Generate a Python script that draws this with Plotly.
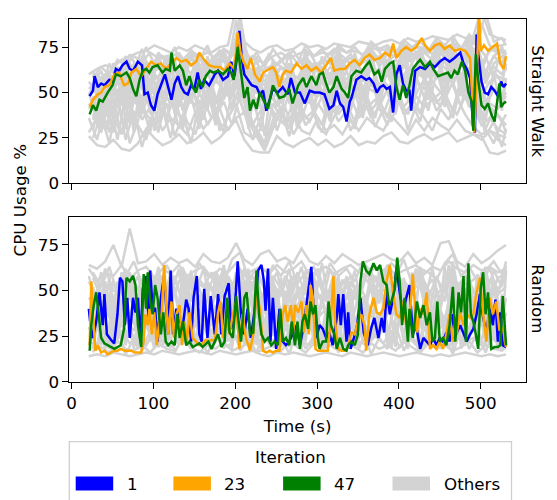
import plotly.graph_objects as go

# ---------------- data ----------------
# highlighted iterations: (time s, CPU %)
top_it1 = [(22,48),(26,51),(28,59),(32,53),(36,55),(40,54),(46,57),(50,56),(54,63),(58,62),(62,65),(67,67),(71,63),(75,62),(81,67),(86,65),(89,49),(93,50),(97,43),(101,40),(105,49),(109,54),(114,60),(118,53),(122,46),(126,55),(130,59),(134,53),(138,50),(142,49),(146,54),(150,52),(154,61),(158,52),(162,57),(168,54),(175,60),(179,62),(185,57),(191,59),(195,67),(199,59),(203,73),(205,84),(208,69),(211,60),(215,57),(220,54),(226,53),(230,49),(234,51),(238,40),(242,46),(246,52),(252,50),(258,53),(264,49),(268,58),(273,50),(279,50),(285,44),(291,51),(297,50),(303,50),(309,49),(315,41),(320,43),(324,51),(328,44),(332,42),(336,34),(340,45),(342,47),(348,57),(354,59),(360,57),(364,58),(369,55),(373,50),(377,53),(381,54),(385,52),(389,53),(393,39),(397,60),(401,65),(405,55),(409,51),(413,51),(415,40),(420,62),(426,64),(432,63),(438,66),(444,64),(450,67),(456,69),(462,67),(468,69),(475,72),(479,66),(483,63),(487,58),(491,30),(493,28),(495,82),(497,71),(501,56),(505,50),(509,49),(513,53),(517,51),(521,48),(525,56),(528,53),(531,55)]
top_it23 = [(22,42),(26,46),(32,49),(36,50),(40,53),(46,54),(52,60),(58,61),(64,54),(69,55),(73,61),(79,63),(85,59),(91,63),(97,67),(103,65),(109,66),(115,63),(122,66),(128,69),(134,67),(140,68),(146,65),(152,67),(156,72),(162,68),(168,65),(175,64),(181,64),(187,62),(193,66),(199,63),(203,83),(206,73),(210,67),(215,63),(219,69),(224,60),(230,56),(234,61),(238,62),(242,63),(246,64),(250,61),(254,53),(258,60),(262,62),(268,61),(275,66),(281,63),(287,65),(293,62),(299,64),(305,61),(311,65),(317,69),(321,62),(328,63),(334,63),(340,66),(346,68),(352,65),(358,69),(364,71),(370,68),(377,69),(383,72),(389,70),(393,77),(397,69),(403,73),(409,75),(415,73),(421,75),(428,80),(432,76),(438,73),(444,76),(450,77),(456,74),(462,76),(468,73),(475,74),(481,73),(487,69),(490,47),(492,28),(495,56),(498,95),(500,73),(504,76),(509,73),(515,75),(520,77),(524,66),(528,63),(531,70)]
top_it47 = [(22,38),(26,43),(30,40),(34,46),(38,45),(44,50),(50,54),(54,60),(60,59),(67,61),(71,58),(75,52),(79,48),(83,57),(87,62),(91,63),(95,61),(99,64),(105,65),(111,61),(115,63),(120,62),(122,72),(126,62),(132,65),(136,62),(140,54),(144,59),(148,53),(152,50),(156,57),(160,53),(164,59),(169,62),(173,61),(179,62),(185,60),(191,63),(195,61),(198,57),(203,75),(207,61),(211,47),(215,53),(218,40),(222,46),(226,41),(230,50),(234,46),(240,41),(246,54),(250,50),(254,47),(260,48),(266,52),(270,44),(277,54),(283,58),(287,53),(293,59),(299,54),(303,60),(307,61),(311,55),(315,50),(320,53),(324,59),(330,52),(334,50),(338,47),(342,59),(348,62),(354,61),(360,65),(364,67),(370,60),(375,62),(379,56),(383,63),(389,66),(393,67),(397,53),(401,46),(405,54),(409,47),(413,54),(417,63),(422,66),(426,68),(432,64),(438,67),(442,63),(448,59),(454,60),(460,61),(464,58),(468,62),(472,60),(477,67),(481,62),(485,50),(489,45),(491,29),(494,71),(497,57),(501,43),(505,41),(509,44),(513,38),(517,34),(519,42),(523,55),(525,42),(528,44),(531,45)]

bot_it1 = [(21,40),(23,31),(26,24),(30,33),(34,49),(38,31),(40,48),(43,26),(48,23),(52,21),(56,37),(59,57),(62,55),(65,31),(68,46),(71,24),(75,46),(78,38),(81,46),(84,22),(87,51),(91,58),(94,35),(96,61),(99,40),(102,40),(105,22),(109,46),(113,58),(118,26),(121,61),(124,26),(128,40),(132,33),(136,31),(140,45),(143,40),(146,22),(149,46),(153,58),(156,26),(159,22),(162,51),(166,24),(170,47),(175,26),(179,48),(183,26),(187,47),(192,54),(195,29),(199,37),(203,66),(207,37),(211,26),(215,40),(219,24),(224,40),(228,61),(232,64),(235,55),(237,39),(240,62),(243,22),(246,46),(250,18),(254,40),(258,22),(262,20),(266,22),(270,26),(275,31),(279,20),(283,29),(287,42),(291,55),(293,63),(296,37),(299,24),(303,31),(307,29),(311,24),(315,27),(319,20),(324,35),(326,48),(329,31),(332,48),(336,22),(338,38),(341,18),(345,24),(349,31),(353,46),(357,27),(362,20),(366,29),(370,35),(375,24),(379,35),(382,27),(385,50),(389,37),(393,46),(397,62),(401,49),(405,38),(409,46),(413,53),(417,26),(421,31),(426,18),(430,24),(434,22),(438,20),(442,24),(446,20),(450,24),(454,22),(458,27),(462,22),(466,37),(470,26),(475,31),(479,27),(483,22),(487,26),(491,29),(495,37),(499,48),(503,35),(507,27),(511,40),(515,31),(518,45),(521,22),(524,38),(527,20),(531,19)]
bot_it23 = [(22,20),(24,55),(26,38),(29,17),(32,20),(36,16),(40,17),(44,15),(48,16),(52,17),(56,17),(60,18),(65,17),(69,17),(73,17),(77,16),(81,16),(85,16),(88,22),(90,37),(93,31),(95,40),(98,26),(101,38),(104,20),(107,33),(110,37),(113,64),(116,40),(118,26),(122,44),(125,24),(128,37),(132,42),(135,20),(138,33),(141,22),(144,38),(148,24),(152,22),(156,20),(160,21),(164,23),(168,22),(171,23),(175,22),(179,38),(182,44),(185,24),(189,33),(193,26),(197,37),(201,44),(205,18),(209,37),(213,24),(218,17),(222,26),(226,49),(230,40),(234,17),(238,16),(242,17),(246,16),(250,17),(254,17),(258,37),(261,42),(264,33),(268,42),(271,27),(273,42),(277,38),(281,44),(284,27),(287,42),(290,26),(292,53),(295,46),(298,18),(301,17),(305,17),(309,17),(313,17),(317,35),(320,58),(322,33),(326,18),(330,17),(334,17),(338,19),(342,27),(346,26),(350,33),(354,37),(358,31),(360,17),(364,37),(369,46),(373,38),(377,37),(381,40),(385,55),(389,64),(393,48),(397,37),(401,35),(405,44),(409,31),(413,33),(417,59),(422,27),(426,40),(430,37),(434,49),(438,18),(442,20),(446,18),(450,22),(454,18),(458,26),(462,37),(466,22),(471,27),(475,38),(479,31),(483,37),(487,35),(491,37),(495,49),(499,57),(503,37),(507,22),(511,46),(515,37),(519,44),(523,28),(527,30),(531,19)]
bot_it47 = [(22,17),(24,31),(27,42),(30,49),(33,37),(36,24),(40,21),(44,20),(48,19),(52,18),(56,19),(60,20),(64,29),(67,57),(71,55),(75,58),(78,53),(81,31),(85,19),(88,59),(91,40),(93,60),(96,44),(99,37),(102,53),(105,46),(109,26),(112,38),(115,22),(118,20),(122,22),(126,20),(129,37),(132,24),(136,33),(140,20),(144,22),(148,19),(152,20),(156,21),(160,19),(164,21),(167,22),(171,18),(175,22),(179,26),(183,19),(187,22),(190,46),(193,27),(197,24),(201,47),(203,37),(207,22),(209,33),(211,46),(214,49),(218,26),(222,27),(226,61),(229,37),(232,26),(236,22),(240,24),(244,20),(248,22),(252,20),(255,40),(258,22),(262,24),(266,20),(269,33),(273,20),(276,33),(279,18),(282,33),(285,37),(289,29),(292,44),(295,37),(298,42),(301,24),(303,18),(307,22),(311,22),(314,44),(317,31),(321,26),(324,18),(328,24),(332,18),(336,17),(338,20),(342,22),(346,20),(350,26),(353,55),(356,66),(360,61),(364,59),(369,65),(373,61),(377,64),(381,55),(385,53),(388,42),(391,44),(395,51),(398,68),(401,55),(404,31),(407,46),(411,22),(413,40),(417,24),(422,44),(426,35),(430,42),(434,31),(438,38),(441,22),(444,24),(447,44),(450,22),(454,24),(458,20),(462,31),(466,52),(469,22),(473,49),(476,38),(479,58),(482,22),(485,65),(488,37),(491,33),(494,26),(497,18),(500,51),(503,60),(506,37),(509,49),(513,18),(517,19),(521,19),(524,20),(527,47),(529,30),(531,20)]

# the other iterations (grey), sampled every 10 s on two interleaved time grids
others_t = [21,31,41,51,61,71,81,91,101,111,121,131,141,151,161,171,181,191,201,211,
            221,231,241,251,261,271,281,291,301,311,321,331,341,351,361,371,381,391,401,411,
            421,431,441,451,461,471,481,491,501,511,521,531]
others_tb = [26,36,46,56,66,76,86,96,106,116,126,136,146,156,166,176,186,196,206,216,
             226,236,246,256,266,276,286,296,306,316,326,336,346,356,366,376,386,396,406,416,
             426,436,446,456,466,476,486,496,506,516,526,531]
top_others = [
    [60,63,65,64,68,70,72,73,76,74,72,75,73,76,74,72,75,76,97,78,74,72,75,76,73,74,77,75,76,74,77,76,75,78,77,76,78,79,77,80,78,79,81,80,79,82,80,81,96,82,80,79],
    [26,21,20,24,19,18,22,30,25,21,23,27,22,24,28,22,25,30,35,24,18,17,17,26,22,20,23,25,21,24,20,22,26,21,23,22,26,28,23,22,25,27,24,26,28,23,25,27,26,17,16,18],
    [44,38,30,42,28,46,52,38,33,47,50,30,44,52,46,36,44,50,58,45,32,40,44,36,33,45,40,34,44,37,40,45,48,36,42,46,38,50,45,38,48,42,46,50,44,38,48,42,32,36,30,27],
    [52,56,60,57,62,64,60,67,62,64,66,61,68,63,66,64,69,65,80,64,60,62,64,66,62,65,67,63,66,68,64,67,69,65,68,70,66,69,72,67,70,72,68,71,73,70,74,72,62,74,72,73],
    [36,24,42,28,47,22,34,57,29,42,25,47,34,27,42,52,29,36,44,28,25,36,47,29,42,27,35,50,31,27,37,44,29,39,47,31,41,34,50,29,43,36,29,41,35,47,38,31,27,29,24,21],
    [56,50,47,53,56,50,59,52,57,61,55,59,54,57,62,57,55,59,68,55,51,49,56,59,56,52,55,59,55,58,61,56,59,55,61,63,58,61,56,63,61,58,63,66,61,63,58,61,48,56,59,57],
    [41,48,44,37,51,47,43,53,45,51,44,53,48,43,56,50,45,53,62,47,43,46,51,44,48,53,45,51,48,53,44,50,55,47,53,50,56,52,49,55,57,52,56,50,56,59,54,52,38,44,41,48],
    [28,36,30,36,27,39,32,24,41,29,36,32,27,39,30,36,41,29,36,39,24,30,27,36,32,39,29,27,36,29,32,27,35,29,36,32,29,37,32,27,35,29,36,32,29,35,29,27,24,29,27,25],
    [48,60,55,66,58,71,63,75,66,70,62,72,65,71,60,68,73,64,90,66,70,63,71,65,69,73,66,72,64,70,74,67,71,65,73,76,69,74,70,77,72,75,71,78,74,77,73,78,88,76,73,71],
    [50,34,48,40,55,33,60,45,52,38,58,42,60,48,35,55,40,62,55,38,48,30,52,42,58,36,50,44,60,38,54,46,40,58,48,36,56,44,62,46,40,58,50,42,60,48,55,45,35,42,38,32],
]
top_others_b = [
    [55,40,62,45,66,50,70,48,72,52,68,46,74,50,70,55,72,48,85,52,70,45,68,55,72,50,74,48,70,54,76,52,72,56,74,50,76,54,78,52,75,58,78,55,80,56,77,60,70,58,76,62],
    [35,52,38,58,42,63,40,66,45,62,38,68,44,65,40,70,46,66,60,42,64,40,66,44,62,48,68,42,64,46,70,44,66,48,72,46,68,50,74,48,70,52,75,50,72,54,76,50,40,62,55,66],
    [48,30,55,35,60,28,64,38,58,32,66,40,60,36,68,34,62,40,75,30,58,26,60,38,64,34,66,40,62,36,68,42,64,38,70,40,66,44,72,40,68,46,74,42,70,48,75,44,35,60,40,58],
    [60,45,58,50,64,55,68,52,70,58,66,54,72,60,68,56,74,58,88,60,56,50,62,58,66,54,70,60,68,56,72,62,70,58,74,64,72,60,76,66,74,62,78,68,76,64,80,66,62,70,66,72],
    [25,38,22,45,30,50,35,42,28,55,40,35,48,30,52,38,45,32,50,40,28,20,35,42,30,48,36,40,32,50,38,44,34,52,40,46,36,54,42,48,38,56,44,50,40,58,46,42,30,22,34,28],
    [42,55,48,60,52,58,62,56,66,60,64,58,70,62,66,60,72,64,78,62,58,54,60,64,62,58,66,62,64,60,68,64,66,62,70,66,68,64,72,68,70,66,74,70,72,68,76,72,55,66,70,68],
    [62,50,66,56,70,62,74,60,72,66,75,62,73,68,76,64,74,70,92,66,72,64,74,68,72,66,76,70,74,68,76,72,75,70,78,74,76,72,79,75,78,73,80,76,81,74,82,77,94,78,80,76],
    [30,45,35,50,40,56,38,52,46,60,42,55,48,62,44,58,50,64,70,48,40,52,46,58,44,56,50,60,46,58,52,62,48,60,54,64,50,62,56,66,52,64,58,68,54,66,60,70,45,52,48,56],
    [50,58,44,62,50,66,56,60,52,68,58,62,54,70,60,64,56,72,66,58,50,60,56,64,58,54,62,66,58,64,60,68,62,58,66,70,62,68,64,72,66,62,70,74,66,72,68,76,58,64,60,66],
    [38,28,46,24,50,34,44,28,56,36,48,30,58,38,52,32,60,40,55,34,30,22,44,36,50,30,54,38,48,34,56,40,50,36,58,42,52,38,60,44,54,40,62,46,56,42,64,48,30,40,34,38],
    [58,64,60,68,65,70,67,72,69,70,71,68,73,70,72,69,74,71,82,70,68,66,70,72,69,71,73,70,72,71,74,72,73,71,75,73,74,72,76,74,75,73,77,75,76,74,78,76,70,75,76,77],
    [45,36,52,42,56,48,44,58,40,54,50,62,46,58,52,44,60,48,66,50,46,40,54,48,58,44,60,50,56,46,62,52,58,48,64,54,60,50,66,56,62,52,68,58,64,54,70,60,42,52,46,50],
    [32,42,28,48,24,40,20,36,30,44,26,38,22,46,32,40,28,50,45,34,26,18,30,40,26,44,32,38,28,46,34,40,30,48,36,42,32,50,38,44,34,52,40,46,36,54,42,48,26,34,20,30],
    [54,62,50,64,58,60,66,62,58,70,62,66,60,72,64,68,62,74,80,64,60,56,64,68,62,66,70,64,68,66,72,68,64,70,74,68,72,70,76,70,74,72,78,72,76,74,80,76,60,70,74,72],
]
bot_others = [
    [64,62,66,75,63,84,65,66,70,64,68,65,67,63,70,66,65,68,76,67,64,70,72,66,68,65,73,66,64,69,65,70,67,64,66,68,70,67,66,71,65,68,64,76,77,66,63,70,65,68,72,75],
    [14,15,14,16,15,14,15,16,15,17,16,15,16,17,16,15,17,16,15,16,17,15,14,16,15,16,15,14,15,16,15,14,16,15,14,15,16,15,14,15,16,15,14,15,14,15,16,15,14,15,14,15],
    [58,40,55,30,60,45,52,35,58,42,60,38,55,48,62,40,57,36,60,45,55,38,62,42,58,50,63,40,56,44,60,38,55,46,62,40,58,48,56,42,60,44,62,40,64,46,58,42,60,44,57,59],
    [20,35,18,45,22,30,18,40,25,19,48,22,35,20,42,18,30,25,45,20,38,18,28,50,22,35,18,45,25,20,38,22,50,18,30,25,42,20,35,18,48,22,30,19,45,25,20,38,22,42,18,25],
    [62,55,60,58,64,56,61,63,57,62,59,64,58,61,63,57,62,60,65,58,61,63,59,64,60,62,66,58,61,63,59,62,64,60,58,63,61,65,60,62,64,59,63,61,66,62,60,64,61,63,60,62],
    [30,18,50,25,20,55,22,38,18,45,28,20,52,24,35,18,48,22,30,56,20,40,25,18,50,28,22,44,20,35,55,18,30,48,22,26,40,18,52,25,20,46,30,18,38,55,22,28,45,20,35,30],
    [45,50,38,55,42,48,58,40,52,46,55,43,50,57,45,52,48,56,44,50,58,46,53,47,55,42,52,58,46,50,44,56,48,53,45,58,50,46,57,48,52,55,46,50,58,48,54,50,46,56,48,52],
    [22,20,25,19,28,21,24,20,27,22,19,26,21,24,20,28,22,19,25,23,20,27,21,24,19,26,22,20,28,21,24,19,27,22,20,25,21,28,19,24,22,20,26,21,19,27,22,24,20,25,21,19],
    [40,28,35,44,30,38,26,48,33,40,28,36,45,30,38,26,44,34,40,30,48,28,36,42,30,38,46,28,35,40,30,44,36,28,42,34,30,46,32,38,28,44,36,30,40,34,46,30,38,28,42,36],
    [55,45,62,50,48,60,42,55,50,58,46,62,40,55,52,60,45,58,50,62,44,56,52,60,42,58,48,54,62,45,56,50,58,44,60,52,46,58,54,48,62,50,56,45,60,52,58,48,55,62,50,58],
]
bot_others_b = [
    [18,45,22,55,20,48,25,58,19,50,24,60,21,46,26,56,18,52,23,62,20,48,25,57,19,53,22,60,18,50,24,58,20,47,26,62,19,54,23,60,21,49,25,63,18,55,22,59,20,52,24,61],
    [50,20,58,24,46,18,55,22,60,19,52,25,57,20,48,23,62,18,54,21,59,24,50,19,56,22,61,20,47,25,58,18,53,21,63,24,49,19,57,22,60,20,51,25,64,18,56,21,59,23,48,20],
    [30,38,26,42,34,28,40,32,45,27,36,44,30,38,25,42,33,46,28,36,40,30,44,26,38,32,46,28,42,34,30,40,27,44,36,32,42,28,46,34,38,30,44,26,40,36,48,30,34,42,28,38],
    [60,52,63,48,58,66,54,61,50,64,56,62,52,65,58,60,54,67,71,56,62,50,64,58,66,54,60,63,52,65,58,62,55,66,60,52,64,58,67,54,62,60,56,65,70,58,63,55,61,66,59,64],
    [17,19,16,22,18,17,20,16,21,18,17,23,19,16,20,18,22,17,19,21,16,18,20,17,22,19,16,21,18,20,17,23,19,16,21,18,20,17,22,19,16,21,18,20,17,19,22,16,20,18,17,19],
    [40,60,35,52,62,38,56,44,63,36,58,42,61,34,55,46,64,39,57,43,60,37,54,47,62,35,58,41,65,38,53,45,61,36,59,43,64,39,56,47,62,34,58,44,66,40,55,46,63,38,57,66],
    [25,32,20,38,28,22,35,26,42,21,30,36,24,40,27,22,33,45,23,29,37,22,41,26,31,20,39,28,24,36,21,43,27,32,23,38,25,44,22,30,35,24,40,27,21,34,29,42,23,31,26,22],
    [52,34,48,28,56,40,30,52,36,46,26,54,38,48,30,58,34,44,28,52,40,32,56,36,46,30,54,42,28,50,38,56,32,46,40,28,54,36,48,30,58,38,44,34,52,28,50,42,36,56,32,46],
    [16,26,18,30,15,24,17,28,19,33,16,25,18,29,15,27,20,31,17,24,16,28,19,26,15,30,18,25,17,32,16,27,19,29,15,24,18,31,17,26,16,28,20,25,15,30,18,27,16,29,17,24],
    [57,46,52,40,60,48,55,43,58,50,47,62,44,56,50,59,45,53,61,49,56,42,58,51,46,60,48,54,43,62,50,57,45,59,52,47,61,44,55,50,63,46,57,49,60,45,54,58,47,61,52,63],
]

iterations = ["1", "23", "47", "Others"]
colors = {"1": "blue", "23": "orange", "47": "green", "Others": "lightgray"}
panels = ["Straight Walk", "Random"]
x_ticks = [0, 100, 200, 300, 400, 500]
y_ticks = [0, 25, 50, 75]

# ---------------- figure ----------------
W, H = 557, 500
FONT = "DejaVu Sans"
FS = 16.7
LW = 2.5

def px(x):
    return x / W

def py(y):
    return (H - y) / H

fig = go.Figure()

panel_data = [
    ("x", "y", [(others_t, top_others), (others_tb, top_others_b)],
     {"1": top_it1, "23": top_it23, "47": top_it47}),
    ("x2", "y2", [(others_t, bot_others), (others_tb, bot_others_b)],
     {"1": bot_it1, "23": bot_it23, "47": bot_it47}),
]
for xa, ya, groups, hl in panel_data:
    for tt, group in groups:
        for series in group:
            fig.add_trace(go.Scatter(x=tt, y=series, mode="lines", xaxis=xa, yaxis=ya,
                                     line=dict(color=colors["Others"], width=LW),
                                     showlegend=False, hoverinfo="skip"))
    for it in ["1", "23", "47"]:
        pts = hl[it]
        fig.add_trace(go.Scatter(x=[p[0] for p in pts], y=[p[1] for p in pts], mode="lines",
                                 xaxis=xa, yaxis=ya, name=it,
                                 line=dict(color=colors[it], width=LW),
                                 showlegend=False))

xdom = [px(69.3), px(526)]
axis_common = dict(showline=True, linecolor="black", linewidth=1.3, mirror=True,
                   ticks="outside", ticklen=5.8, tickwidth=1.3, tickcolor="black",
                   showgrid=False, zeroline=False, automargin=False,
                   tickfont=dict(family=FONT, size=FS, color="black"))
xrange_ = [-2.9, 555.4]
yrange_ = [0, 90.5]

fig.update_layout(
    width=W, height=H, margin=dict(l=0, r=0, t=0, b=0),
    paper_bgcolor="white", plot_bgcolor="white",
    font=dict(family=FONT, size=FS, color="black"),
    showlegend=False,
    xaxis=dict(domain=xdom, range=xrange_, tickvals=x_ticks, showticklabels=False,
               anchor="y", **axis_common),
    yaxis=dict(domain=[py(183.3), py(19)], range=yrange_, tickvals=y_ticks,
               anchor="x", **axis_common),
    xaxis2=dict(domain=xdom, range=xrange_, tickvals=x_ticks, anchor="y2",
                matches="x",
                title=dict(text="Time (s)", font=dict(family=FONT, size=FS), standoff=8),
                **axis_common),
    yaxis2=dict(domain=[py(381.7), py(216.7)], range=yrange_, tickvals=y_ticks,
                anchor="x2", matches="y", **axis_common),
)

ann = []
ann.append(dict(text="CPU Usage %", x=px(20.4), y=py(200), xref="paper", yref="paper",
                textangle=-90, showarrow=False, xanchor="center", yanchor="middle",
                font=dict(family=FONT, size=FS)))
for label, yc in zip(panels, [101, 299]):
    ann.append(dict(text=label, x=px(537.7), y=py(yc), xref="paper", yref="paper",
                    textangle=90, showarrow=False, xanchor="center", yanchor="middle",
                    font=dict(family=FONT, size=FS)))

# legend key below the plot
shapes = []
shapes.append(dict(type="rect", xref="paper", yref="paper",
                   x0=px(69.3), x1=px(511.5), y0=py(506), y1=py(441.7),
                   line=dict(color="#d0d0d0", width=1.3), fillcolor="rgba(255,255,255,0.8)",
                   layer="above"))
ann.append(dict(text="Iteration", x=px(290), y=py(457), xref="paper", yref="paper",
                showarrow=False, xanchor="center", yanchor="middle",
                font=dict(family=FONT, size=FS)))
patch_x = [75.7, 173.4, 283.1, 392.5]
for it, x0 in zip(iterations, patch_x):
    shapes.append(dict(type="rect", xref="paper", yref="paper",
                       x0=px(x0), x1=px(x0 + 37.5), y0=py(490.5), y1=py(476.5),
                       line=dict(width=0), fillcolor=colors[it], layer="above"))
    ann.append(dict(text=it, x=px(x0 + 37.5 + 11.5), y=py(483.5), xref="paper", yref="paper",
                    showarrow=False, xanchor="left", yanchor="middle",
                    font=dict(family=FONT, size=FS)))

fig.update_layout(annotations=ann, shapes=shapes)
fig.write_html("out.html")
